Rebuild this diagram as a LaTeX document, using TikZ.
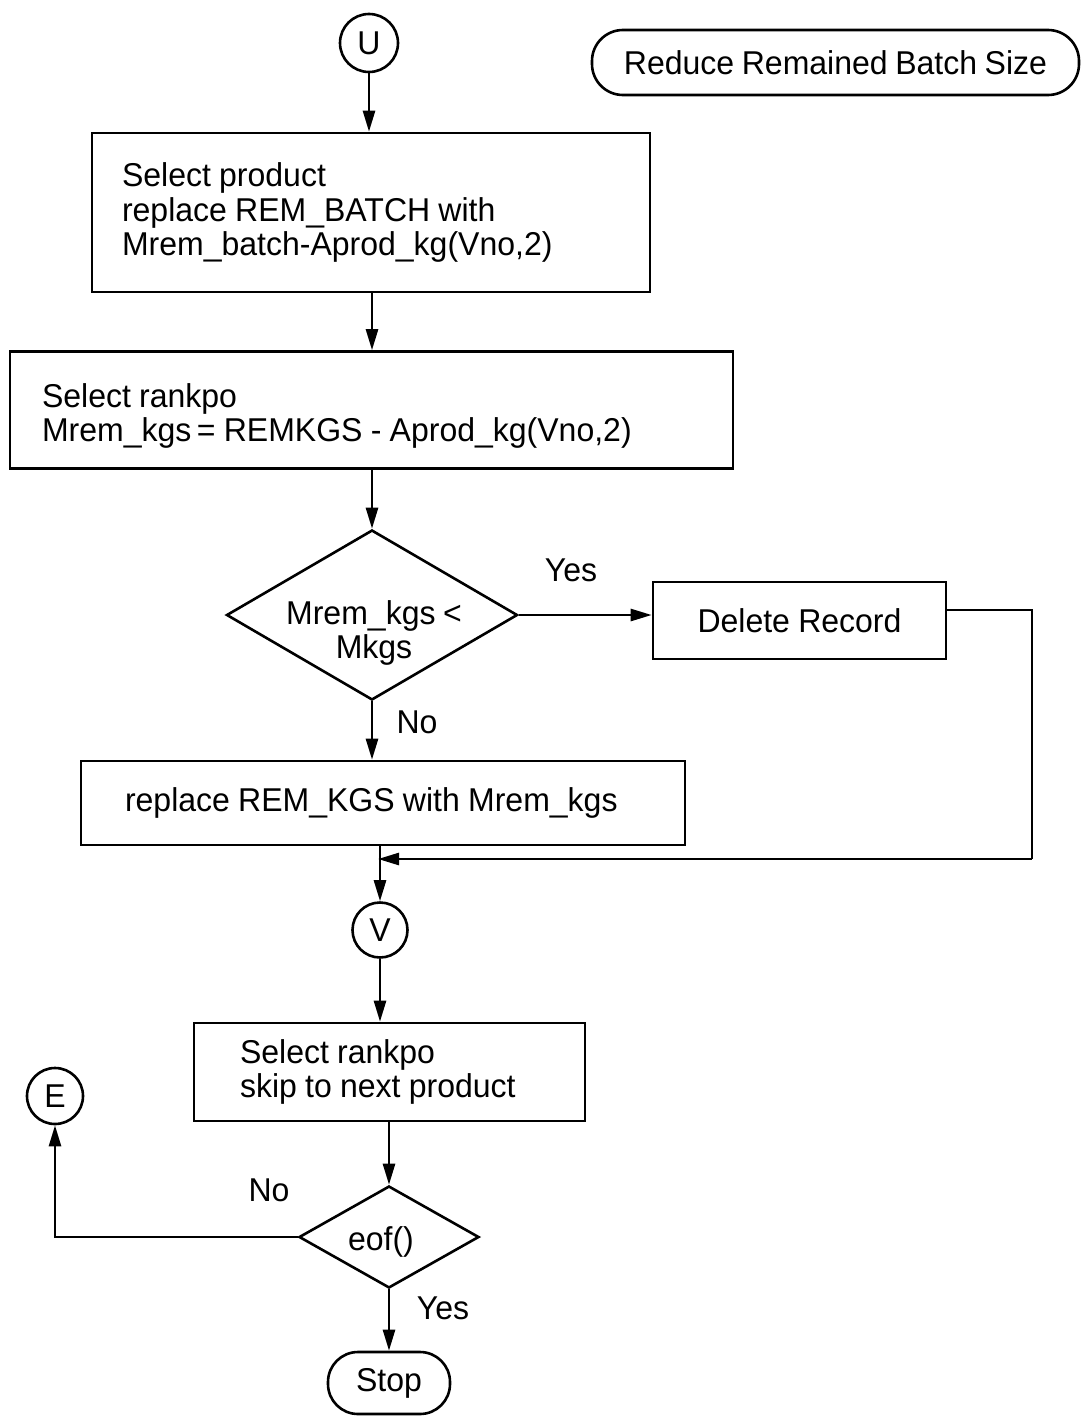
\documentclass[tikz,border=0pt]{standalone}
\usepackage{fontspec}
\setmainfont[FakeStretch=0.97,WordSpace=0.85]{Liberation Sans}
\usetikzlibrary{arrows.meta,shapes.geometric}
\begin{document}
\begin{tikzpicture}[x=1pt,y=-1pt,
  every node/.style={font=\fontsize{33}{34.5}\selectfont},
  line/.style={line width=2.6pt},
  flow/.style={line, -{Triangle[length=21pt,width=12pt]}},
  procbox/.style={draw, line width=2.6pt, rectangle, inner sep=0pt, align=left,
    execute at begin node={\spaceskip=0.25em\relax\xspaceskip=0.25em\relax}},
  conn/.style={draw, line width=2.6pt, circle, inner sep=0pt},
  term/.style={draw, line width=2.6pt, rectangle, rounded corners=31pt, inner sep=0pt},
  decide/.style={draw, line width=2.6pt, diamond, inner sep=0pt},
  lbl/.style={inner sep=0pt}]
\useasboundingbox (0,0) rectangle (1082,1416);

% connectors and terminals
\node[conn, minimum size=58pt] (U) at (369,43) {U};
\node[term, minimum width=487pt, minimum height=65pt] (title) at (835.5,62.5) {Reduce Remained Batch Size};

% process boxes
\node[procbox, minimum width=558pt, minimum height=159pt, text width=498pt] (b1) at (371,212.5)
  {Select product\\replace REM\_BATCH with\\Mrem\_batch-Aprod\_kg(Vno,2)};
\node[procbox, minimum width=723pt, minimum height=117pt, text width=659pt] (b2) at (371.5,410)
  {\rule{0pt}{1.1em}Select rankpo\\Mrem\_kgs\,= REMKGS - Aprod\_kg(Vno,2)};

% first decision
\node[decide, minimum width=291pt, minimum height=170pt] (d1) at (372,615) {};
\node[lbl, align=center] (d1t) at (374,633) {Mrem\_kgs <\\Mkgs};
\node[procbox, minimum width=293pt, minimum height=77pt, align=center] (del) at (799.5,620.5) {Delete Record};
\node[lbl] (yes1) at (571,570) {Yes};
\node[lbl] (no1) at (417,722) {No};

\node[procbox, minimum width=604pt, minimum height=84pt, text width=516pt] (b3) at (383,803)
  {replace REM\_KGS with Mrem\_kgs};

\node[conn, minimum size=55pt] (V) at (380,930) {V};

\node[procbox, minimum width=391pt, minimum height=98pt, text width=299pt] (b4) at (389.5,1072)
  {Select rankpo\\skip to next product};

% second decision
\node[decide, minimum width=180pt, minimum height=102pt] (d2) at (389,1237) {};
\node[lbl] (d2t) at (381,1242) {eof()};
\node[lbl] (no2) at (269,1190) {No};
\node[lbl] (yes2) at (443,1308) {Yes};

\node[conn, minimum size=56pt] (E) at (55,1096) {E};
\node[term, minimum width=122pt, minimum height=62pt, rounded corners=30pt] (stop) at (389,1383) {Stop};

% return path from Delete Record
\coordinate (r1) at (1032,610);
\coordinate (r2) at (1032,859);
\coordinate (j) at (378,859);

% flow lines
\draw[flow] (U.south) -- (U.south |- b1.north);
\draw[flow] (b1.south -| d1.north) -- (d1.north |- b2.north);
\draw[flow] (b2.south -| d1.north) -- (d1.north);
\draw[flow] (d1.east) -- (d1.east -| del.west);
\draw[line] (del.east |- r1) -- (r1) -- (r2);
\draw[flow] (r2) -- (j);
\draw[flow] (d1.south) -- (d1.south |- b3.north);
\draw[flow] (V.north |- b3.south) -- (V.north);
\draw[flow] (V.south) -- (V.south |- b4.north);
\draw[flow] (d2.north |- b4.south) -- (d2.north);
\draw[flow] (d2.west) -| (E.south);
\draw[flow] (d2.south) -- (stop.north);
\end{tikzpicture}
\end{document}
